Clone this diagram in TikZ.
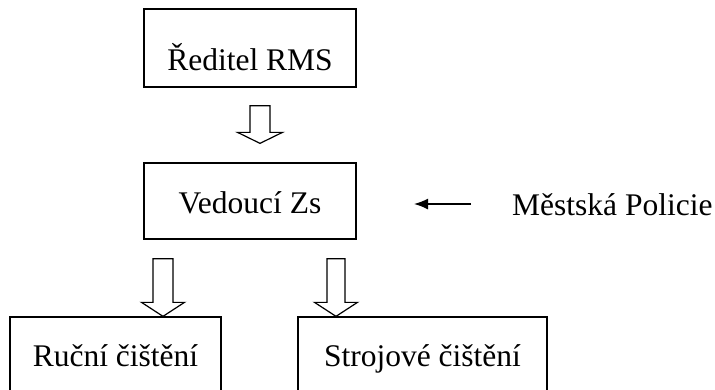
\documentclass[tikz,border=0pt]{standalone}
\usepackage{fontspec}
\setmainfont{Liberation Serif}
\usetikzlibrary{calc,arrows.meta}
\newcommand\lowtext[2]{\raisebox{#1}[0pt][0pt]{#2}}
\newcommand\blockarrow[5]{%
  \draw[hollow] let \p1=(#1), \p2=(#2) in
    (\x2-#3pt,\y1) -- (\x2+#3pt,\y1) -- (\x2+#3pt,\y2+#5pt) -- (\x2+#4pt,\y2+#5pt)
    -- (\x2,\y2) -- (\x2-#4pt,\y2+#5pt) -- (\x2-#3pt,\y2+#5pt) -- cycle;}
\begin{document}
\begin{tikzpicture}[x=1pt,y=-1pt,
  every node/.style={font=\fontsize{31.5}{36}\selectfont},
  box/.style={draw, line width=1.3pt, inner sep=0pt},
  hollow/.style={draw, fill=white, line width=1.2pt, line join=miter},
  thinarrow/.style={line width=1.5pt, -{Latex[length=14pt,width=11pt]}}]
\useasboundingbox (0,0) rectangle (715,389);
\clip (0,0) rectangle (715,389);
\node[box, minimum width=212pt, minimum height=78pt] (rms) at (250,48) {\lowtext{-22.5pt}{Ředitel RMS}};
\node[box, minimum width=212pt, minimum height=76pt] (vz) at (250,201) {\lowtext{-12.5pt}{Vedoucí Zs}};
\node[anchor=base west, inner sep=0pt] (mp) at (512,215) {Městská Policie};
\node[box, minimum width=211pt, minimum height=103pt] (ruc) at (115.5,368.5) {\lowtext{2.5pt}{Ruční čištění}};
\node[box, minimum width=249pt, minimum height=103pt] (str) at (422.5,368.5) {\lowtext{2.5pt}{Strojové čištění}};
% connectors
\coordinate (a1s) at ($(rms.south)+(10,18)$);
\coordinate (a1e) at ($(vz.north)+(10,-19)$);
\blockarrow{a1s}{a1e}{10}{22.5}{11}
\coordinate (a2s) at ($(vz.south)+(-87,19)$);
\coordinate (a2e) at (a2s |- ruc.north);
\blockarrow{a2s}{a2e}{10}{21.5}{14}
\coordinate (a3s) at ($(vz.south)+(86,19)$);
\coordinate (a3e) at (a3s |- str.north);
\blockarrow{a3s}{a3e}{9}{21.5}{14}
\coordinate (ps) at ($(mp.base west)+(-41,-11)$);
\coordinate (pe) at ($(mp.base west)+(-98,-11)$);
\draw[thinarrow] (ps) -- (pe);
\end{tikzpicture}
\end{document}
